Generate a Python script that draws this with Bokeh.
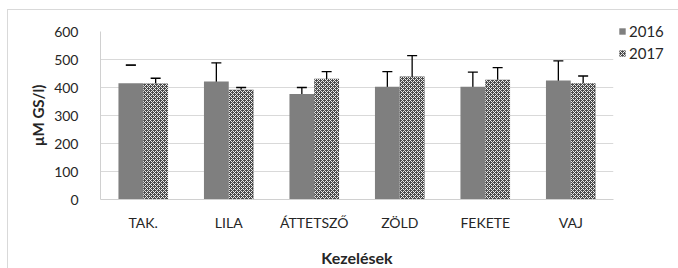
from bokeh.plotting import figure
from bokeh.models import ColumnDataSource, FactorRange, Whisker, TeeHead, Legend, LegendItem, Title
from bokeh.transform import dodge
from bokeh.embed import file_html
from bokeh.resources import INLINE

categories = ["TAK.", "LILA", "ÁTTETSZŐ", "ZÖLD", "FEKETE", "VAJ"]
series_names = ["2016", "2017"]
values_2016 = [415, 421, 377, 403, 403, 425]
values_2017 = [414, 392, 431, 439, 428, 415]
err_hi_2016 = [480, 488, 400, 457, 455, 495]
err_lo_2016 = [480, 354, 357, 347, 347, 362]
err_hi_2017 = [433, 400, 457, 514, 471, 441]
err_lo_2017 = [399, 384, 407, 365, 395, 387]
y_ticks = [0, 100, 200, 300, 400, 500, 600]

FONT = "Lato"
TXT = "#262626"

src = ColumnDataSource(dict(
    cat=categories,
    v16=values_2016, v17=values_2017,
    hi16=err_hi_2016, lo16=err_lo_2016,
    hi17=err_hi_2017, lo17=err_lo_2017,
))

p = figure(frame_width=513, frame_height=168, x_range=FactorRange(*categories, range_padding=0),
           y_range=(0, 600), output_backend="svg", toolbar_location=None,
           min_border_left=92, min_border_right=65, min_border_top=21, min_border_bottom=69)
p.styles = {"margin-top": "9px", "margin-left": "7px",
            "border-top": "1px solid #d9d9d9", "border-left": "1px solid #d9d9d9"}

r16 = p.vbar(x=dodge("cat", -0.145, range=p.x_range), top="v16", width=0.29, source=src,
             fill_color="#7f7f7f", line_color=None)
r17 = p.vbar(x=dodge("cat", 0.145, range=p.x_range), top="v17", width=0.29, source=src,
             fill_color="#4a4a4a", line_color=None,
             hatch_pattern="diagonal_cross", hatch_color="#ececec", hatch_scale=4,
             hatch_weight=1, hatch_alpha=1.0)

for off, lo, hi in [(-0.145, "lo16", "hi16"), (0.145, "lo17", "hi17")]:
    w = Whisker(base=dodge("cat", off, range=p.x_range), lower=lo, upper=hi, source=src,
                line_color="#000000", line_width=1.3,
                lower_head=TeeHead(size=10, line_color="#000000", line_width=1.3),
                upper_head=TeeHead(size=10, line_color="#000000", line_width=1.3))
    p.add_layout(w)

p.yaxis.ticker = y_ticks
p.ygrid.grid_line_color = "#d9d9d9"
p.xgrid.grid_line_color = None
p.outline_line_color = None

for ax in (p.xaxis, p.yaxis):
    ax.axis_line_color = "#d0d0d0"
    ax.major_tick_line_color = None
    ax.minor_tick_line_color = None
    ax.major_label_text_font = FONT
    ax.major_label_text_font_size = "14px"
    ax.major_label_text_color = TXT
p.xaxis.major_label_standoff = 8
p.yaxis.major_label_standoff = 16
p.xaxis.axis_label = "Kezelések"
p.xaxis.axis_label_text_font = FONT
p.xaxis.axis_label_text_font_style = "bold"
p.xaxis.axis_label_text_font_size = "16px"
p.xaxis.axis_label_text_color = TXT
p.xaxis.axis_label_standoff = 14

ylab = Title(text="µM GS/l)", align="center", offset=41, standoff=10,
             text_font=FONT, text_font_style="bold", text_font_size="15px", text_color=TXT)
p.add_layout(ylab, "left")

legend = Legend(items=[LegendItem(label=series_names[0], renderers=[r16]),
                       LegendItem(label=series_names[1], renderers=[r17])],
                location=(5, 137), background_fill_alpha=0, border_line_color=None,
                label_text_font=FONT, label_text_font_size="15px", label_text_color=TXT,
                glyph_width=8, glyph_height=8, spacing=4, padding=0, margin=0,
                label_standoff=3, label_height=18)
p.add_layout(legend, "right")

open("out.html", "w").write(file_html(p, INLINE))
